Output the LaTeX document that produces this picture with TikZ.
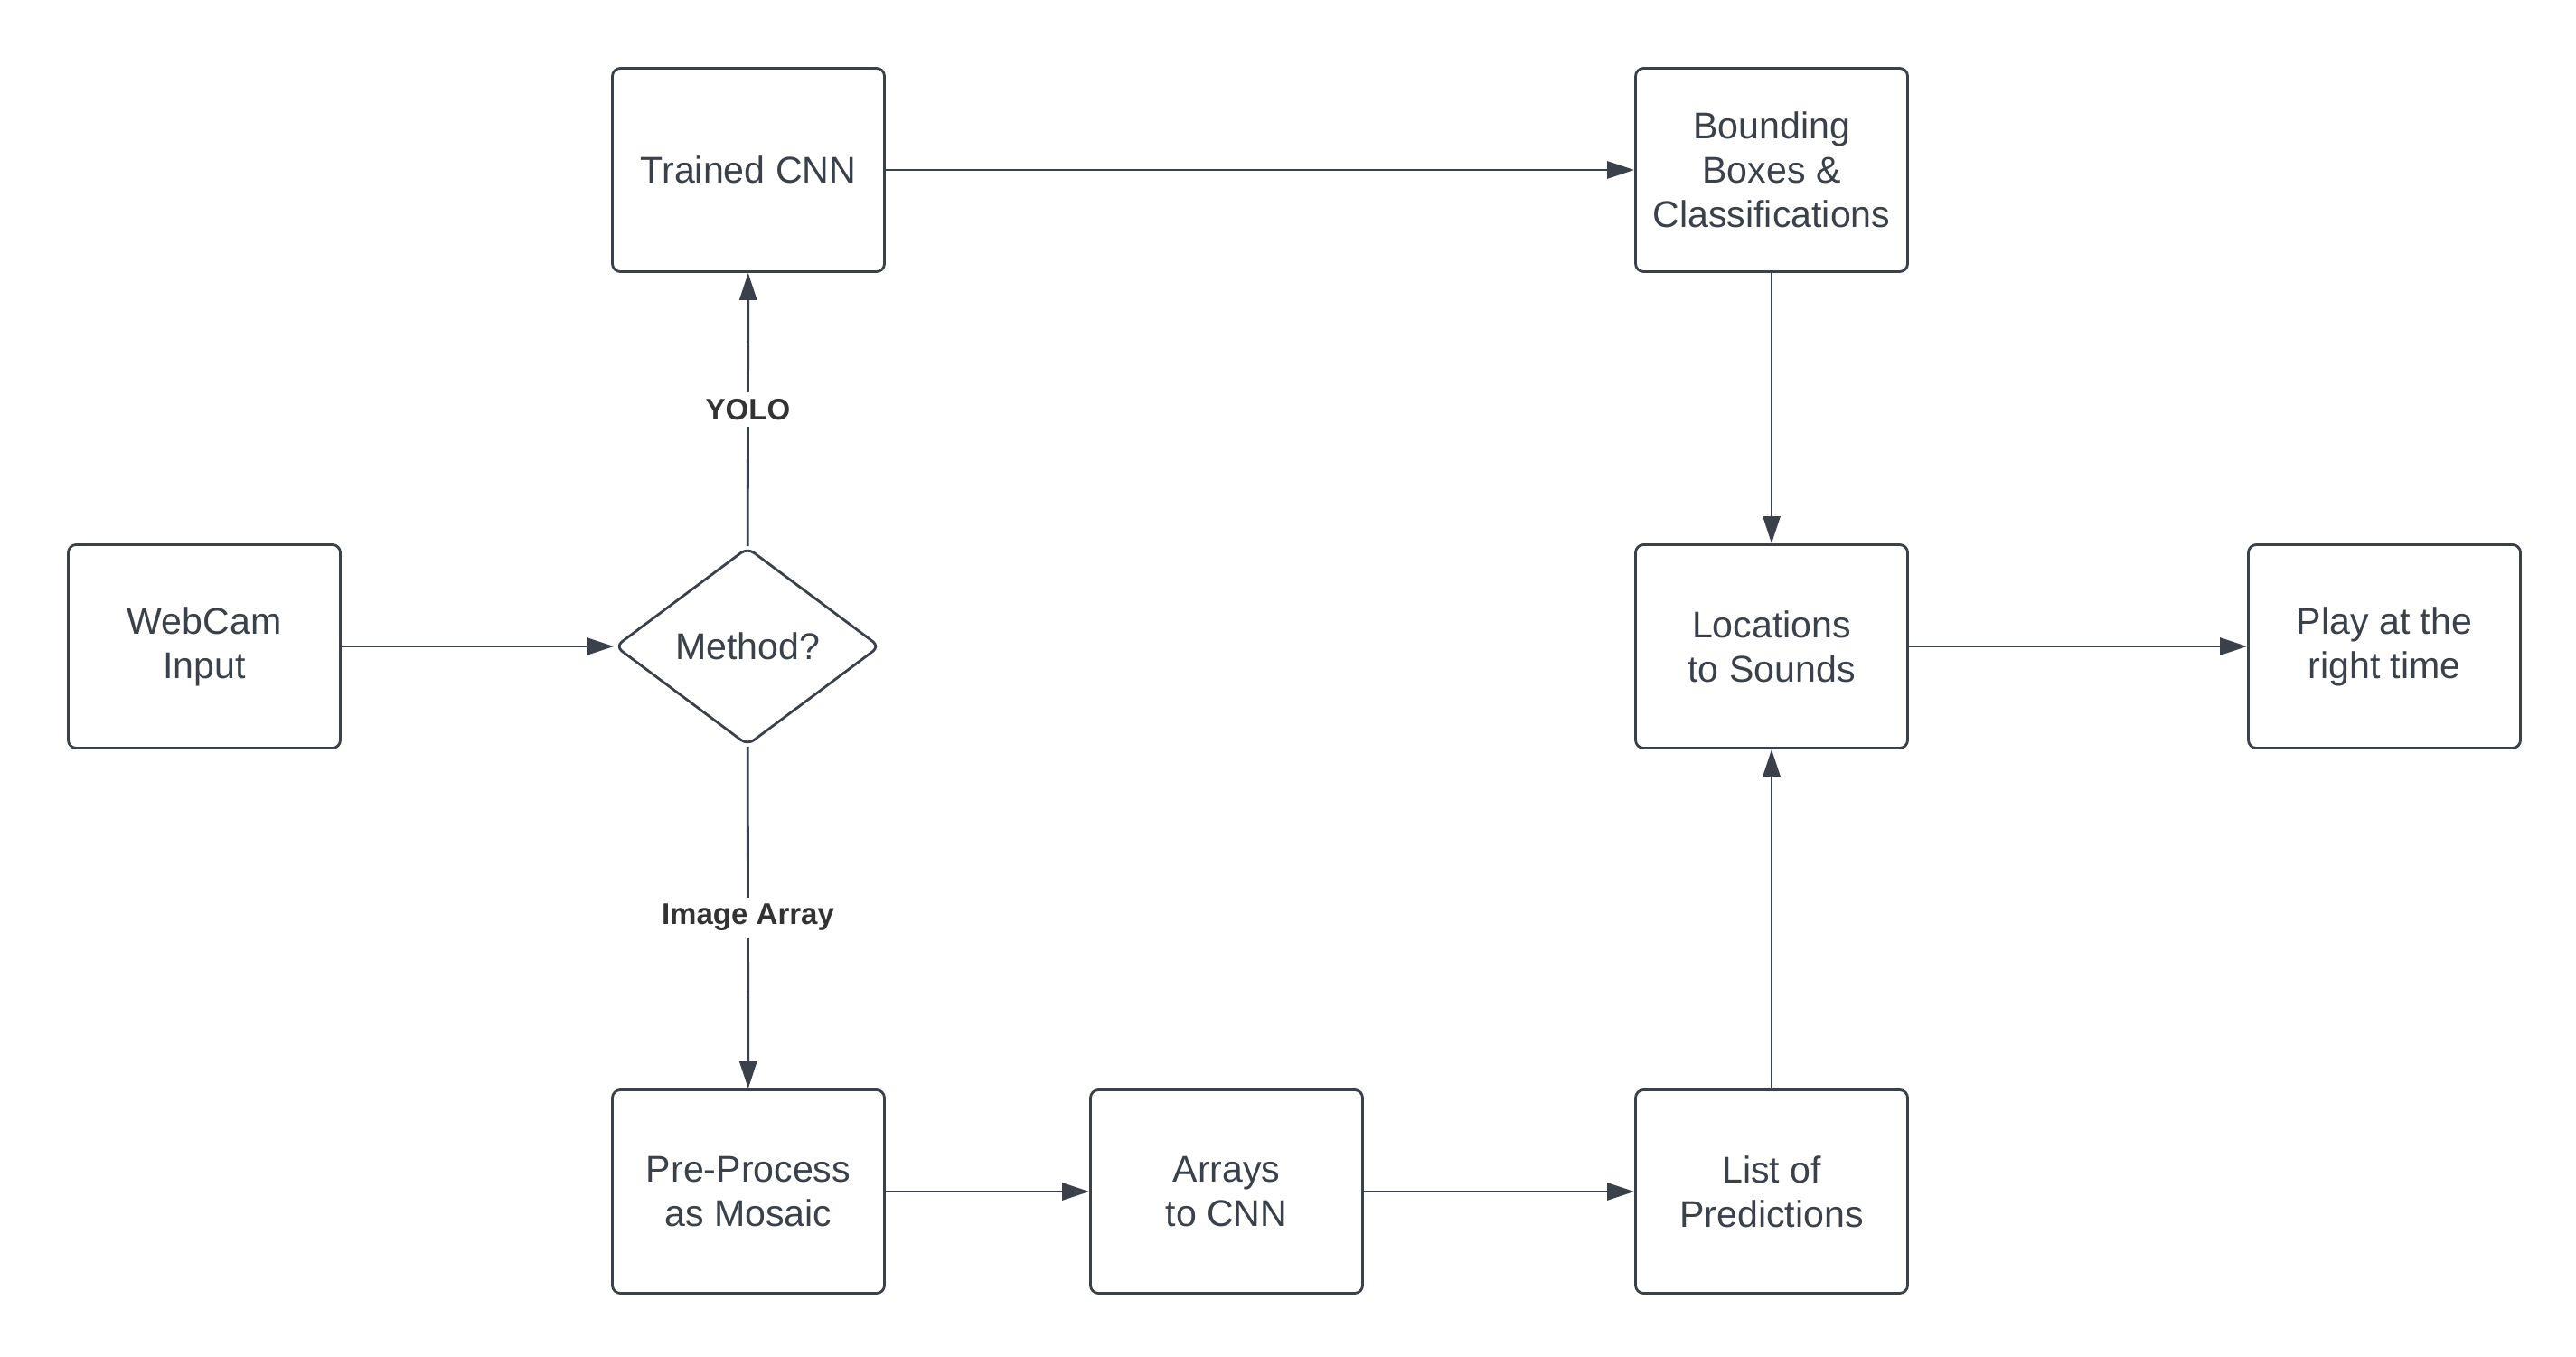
\documentclass[tikz,border=0pt]{standalone}
\usepackage{fontspec}
\setmainfont{Liberation Sans}
\usetikzlibrary{shapes.geometric,arrows.meta}
\definecolor{linea}{HTML}{3A414A}
\definecolor{etichetta}{HTML}{333333}
\tikzset{
    blocco/.style={draw=linea,text=linea,line width=0.8pt,rounded corners=2.5pt,
        minimum width=3.01cm,minimum height=2.25cm,align=center,
        font=\fontsize{11.7}{14}\selectfont},
    scelta/.style={draw=linea,text=linea,line width=0.8pt,diamond,rounded corners=2.5pt,
        minimum width=2.93cm,minimum height=2.19cm,inner sep=0pt,aspect=1.34,
        font=\fontsize{11.7}{14}\selectfont},
    freccia/.style={draw=linea,line width=0.8pt,-{Triangle[length=3mm,width=1.9mm]}},
    etic/.style={fill=white,text=etichetta,font=\fontsize{9.4}{11}\selectfont\bfseries,inner sep=2pt}
}
\newcommand{\Blocco}[4]{%
    \node[blocco] (#1) at (#2,#3) {#4};
}

\begin{document}
\begin{tikzpicture}
        \useasboundingbox (0,0) rectangle (28.5,15);
        \Blocco{webcam}{2.26}{7.85}{WebCam\\Input}
        \node[scelta] (metodo) at (8.27,7.85) {Method?};
        \Blocco{cnn}{8.28}{13.12}{Trained CNN}
        \Blocco{riquadri}{19.6}{13.12}{Bounding\\Boxes \&\\Classifications}
        \Blocco{suoni}{19.6}{7.85}{Locations\\to Sounds}
        \Blocco{suona}{26.38}{7.85}{Play at the\\right time}
        \Blocco{mosaico}{8.28}{1.82}{Pre-Process\\as Mosaic}
        \Blocco{array}{13.57}{1.82}{Arrays\\to CNN}
        \Blocco{predizioni}{19.6}{1.82}{List of\\Predictions}
        \draw[freccia] (webcam) -- (metodo);
        \draw[freccia] (metodo) -- node[etic] {YOLO} (cnn);
        \draw[freccia] (metodo) -- node[etic] {Image Array} (mosaico);
        \draw[freccia] (cnn) -- (riquadri);
        \draw[freccia] (riquadri) -- (suoni);
        \draw[freccia] (suoni) -- (suona);
        \draw[freccia] (mosaico) -- (array);
        \draw[freccia] (array) -- (predizioni);
        \draw[freccia] (predizioni) -- (suoni);
    \end{tikzpicture}
\end{document}
